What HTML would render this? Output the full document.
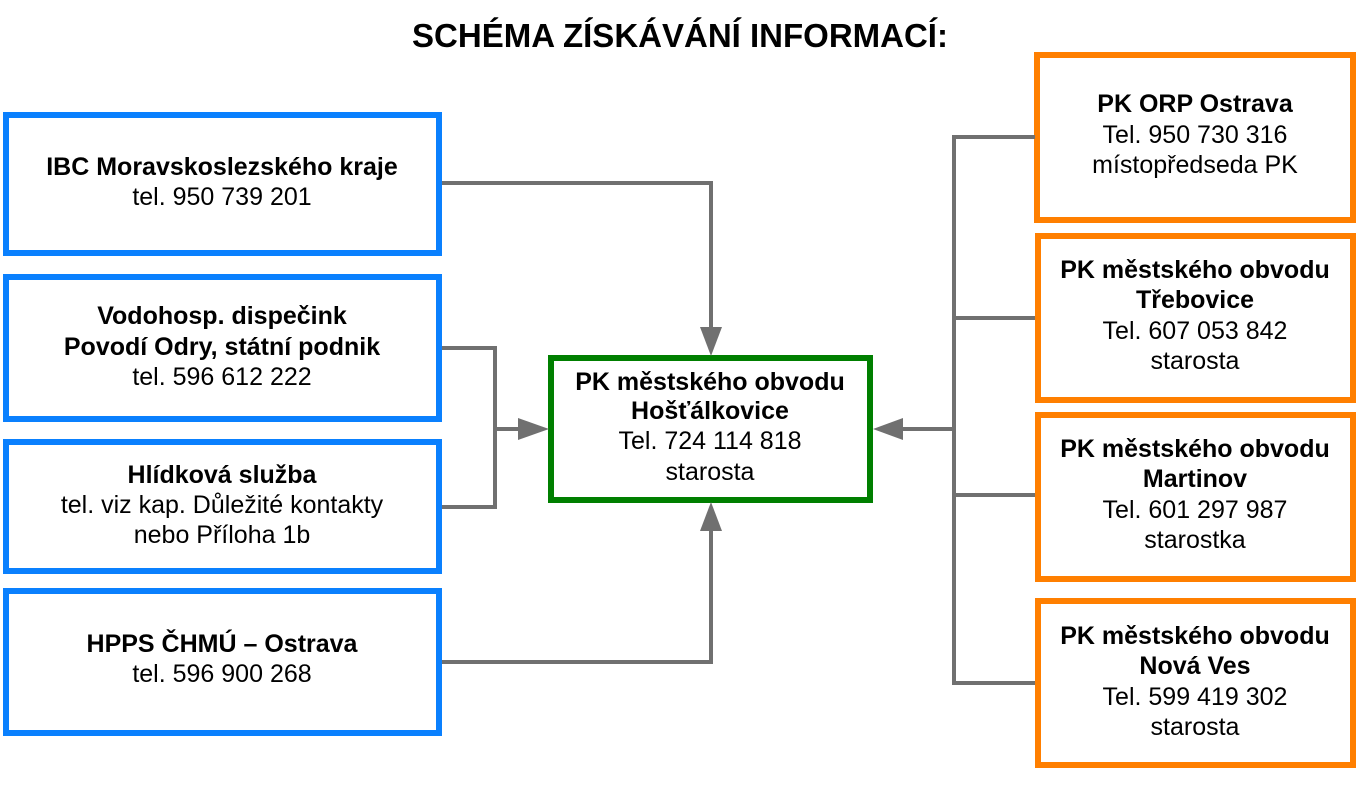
<!DOCTYPE html>
<html><head><meta charset="utf-8"><style>
html,body{margin:0;padding:0;background:#fff;}
body{width:1360px;height:787px;overflow:hidden;}
svg text{font-family:"Liberation Sans",sans-serif;font-size:25px;fill:#000;text-anchor:middle;}
.b{font-weight:bold;}
</style></head><body>
<svg width="1360" height="787" viewBox="0 0 1360 787" xmlns="http://www.w3.org/2000/svg">
<text x="680" y="47" class="b" style="font-size:33px">SCHÉMA ZÍSKÁVÁNÍ INFORMACÍ:</text>
<g fill="none" stroke-width="6">
<rect x="6" y="115" width="433" height="138" stroke="#0a80fe"/>
<rect x="6" y="277" width="433" height="142" stroke="#0a80fe"/>
<rect x="6" y="442" width="433" height="129" stroke="#0a80fe"/>
<rect x="6" y="591" width="433" height="142" stroke="#0a80fe"/>
<rect x="551" y="358" width="319" height="142" stroke="#007f00"/>
<rect x="1037" y="55" width="316" height="165" stroke="#ff7f00"/>
<rect x="1038" y="236" width="315" height="164" stroke="#ff7f00"/>
<rect x="1038" y="415" width="315" height="164" stroke="#ff7f00"/>
<rect x="1038" y="601" width="315" height="164" stroke="#ff7f00"/>
</g>
<g fill="none" stroke="#707070" stroke-width="4">
<polyline points="442,183 711,183 711,330"/>
<polyline points="442,348 495,348 495,507 442,507"/>
<line x1="495" y1="429" x2="525" y2="429"/>
<polyline points="442,662 711,662 711,528"/>
<polyline points="1035,137 954,137 954,683 1035,683"/>
<line x1="954" y1="318" x2="1035" y2="318"/>
<line x1="954" y1="495" x2="1035" y2="495"/>
<line x1="954" y1="429" x2="898" y2="429"/>
</g>
<g fill="#707070">
<polygon points="700,327 722,327 711,356"/>
<polygon points="700,531 722,531 711,502"/>
<polygon points="518,418 518,440 549,429"/>
<polygon points="903,418 903,440 873,429"/>
</g>
<text x="222" y="175" class="b">IBC Moravskoslezského kraje</text>
<text x="222" y="205">tel. 950 739 201</text>
<text x="222" y="324" class="b">Vodohosp. dispečink</text>
<text x="222" y="355" class="b">Povodí Odry, státní podnik</text>
<text x="222" y="385">tel. 596 612 222</text>
<text x="222" y="483" class="b">Hlídková služba</text>
<text x="222" y="513">tel. viz kap. Důležité kontakty</text>
<text x="222" y="543">nebo Příloha 1b</text>
<text x="222" y="652" class="b">HPPS ČHMÚ – Ostrava</text>
<text x="222" y="682">tel. 596 900 268</text>
<text x="710" y="390" class="b">PK městského obvodu</text>
<text x="710" y="419" class="b">Hošťálkovice</text>
<text x="710" y="449">Tel. 724 114 818</text>
<text x="710" y="480">starosta</text>
<text x="1195" y="112" class="b">PK ORP Ostrava</text>
<text x="1195" y="143">Tel. 950 730 316</text>
<text x="1195" y="173">místopředseda PK</text>
<text x="1195" y="278" class="b">PK městského obvodu</text>
<text x="1195" y="308" class="b">Třebovice</text>
<text x="1195" y="339">Tel. 607 053 842</text>
<text x="1195" y="369">starosta</text>
<text x="1195" y="457" class="b">PK městského obvodu</text>
<text x="1195" y="487" class="b">Martinov</text>
<text x="1195" y="518">Tel. 601 297 987</text>
<text x="1195" y="548">starostka</text>
<text x="1195" y="644" class="b">PK městského obvodu</text>
<text x="1195" y="674" class="b">Nová Ves</text>
<text x="1195" y="705">Tel. 599 419 302</text>
<text x="1195" y="735">starosta</text>
</svg>
</body></html>
